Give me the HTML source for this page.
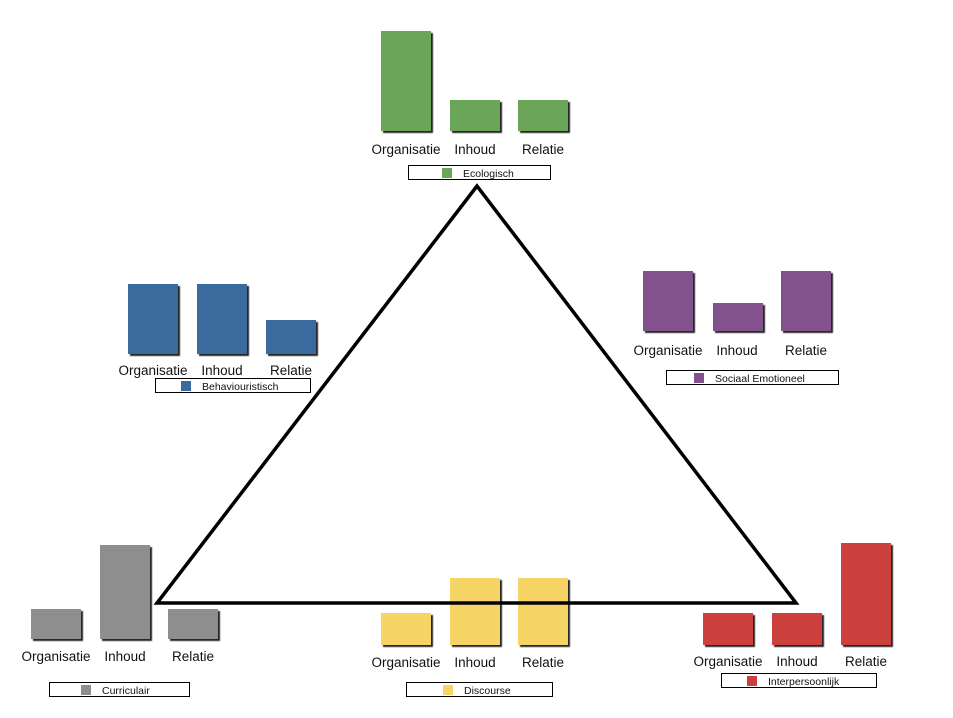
<!DOCTYPE html>
<html><head><meta charset="utf-8"><style>
html,body{margin:0;padding:0;background:#fff;}
svg{display:block;}
text{font-family:"Liberation Sans",sans-serif;fill:#111;}
.l{font-size:13.5px;text-anchor:middle;}
.g{font-size:10.5px;}
</style></head><body>
<svg width="953" height="718" viewBox="0 0 953 718" xmlns="http://www.w3.org/2000/svg">
<defs>
<filter id="s" x="-10%" y="-10%" width="130%" height="130%">
<feDropShadow dx="2" dy="2" stdDeviation="0.6" flood-color="#000" flood-opacity="0.85"/>
</filter>
</defs>
<g filter="url(#s)">
<!-- green -->
<rect x="381" y="31" width="50" height="100" fill="#6aa55a"/>
<rect x="450" y="100" width="50" height="31" fill="#6aa55a"/>
<rect x="518" y="100" width="50" height="31" fill="#6aa55a"/>
<!-- blue -->
<rect x="128" y="284" width="50" height="70" fill="#3a6a9e"/>
<rect x="197" y="284" width="50" height="70" fill="#3a6a9e"/>
<rect x="266" y="320" width="50" height="34" fill="#3a6a9e"/>
<!-- purple -->
<rect x="643" y="271" width="50" height="60" fill="#83518b"/>
<rect x="713" y="303" width="50" height="28" fill="#83518b"/>
<rect x="781" y="271" width="50" height="60" fill="#83518b"/>
<!-- grey -->
<rect x="31" y="609" width="50" height="30" fill="#8d8e8d"/>
<rect x="100" y="545" width="50" height="94" fill="#8d8e8d"/>
<rect x="168" y="609" width="50" height="30" fill="#8d8e8d"/>
<!-- yellow -->
<rect x="381" y="613" width="50" height="32" fill="#f6d466"/>
<rect x="450" y="578" width="50" height="67" fill="#f6d466"/>
<rect x="518" y="578" width="50" height="67" fill="#f6d466"/>
<!-- red -->
<rect x="703" y="613" width="50" height="32" fill="#cc3f3d"/>
<rect x="772" y="613" width="50" height="32" fill="#cc3f3d"/>
<rect x="841" y="543" width="50" height="102" fill="#cc3f3d"/>
</g>

<!-- labels -->
<text class="l" x="406" y="154">Organisatie</text><text class="l" x="475" y="154">Inhoud</text><text class="l" x="543" y="154">Relatie</text>
<text class="l" x="153" y="375">Organisatie</text><text class="l" x="222" y="375">Inhoud</text><text class="l" x="291" y="375">Relatie</text>
<text class="l" x="668" y="355">Organisatie</text><text class="l" x="737" y="355">Inhoud</text><text class="l" x="806" y="355">Relatie</text>
<text class="l" x="56" y="661">Organisatie</text><text class="l" x="125" y="661">Inhoud</text><text class="l" x="193" y="661">Relatie</text>
<text class="l" x="406" y="667">Organisatie</text><text class="l" x="475" y="667">Inhoud</text><text class="l" x="543" y="667">Relatie</text>
<text class="l" x="728" y="666">Organisatie</text><text class="l" x="797" y="666">Inhoud</text><text class="l" x="866" y="666">Relatie</text>

<!-- legends -->
<g stroke="#000" stroke-width="1" fill="#fff">
<rect x="408.5" y="165.5" width="142" height="14"/>
<rect x="155.5" y="378.5" width="155" height="14"/>
<rect x="666.5" y="370.5" width="172" height="14"/>
<rect x="49.5" y="682.5" width="140" height="14"/>
<rect x="406.5" y="682.5" width="146" height="14"/>
<rect x="721.5" y="673.5" width="155" height="14"/>
</g>
<rect x="442" y="168" width="10" height="10" fill="#6aa55a"/><text class="g" x="463" y="177">Ecologisch</text>
<rect x="181" y="381" width="10" height="10" fill="#3a6a9e"/><text class="g" x="202" y="390">Behaviouristisch</text>
<rect x="694" y="373" width="10" height="10" fill="#83518b"/><text class="g" x="715" y="382">Sociaal Emotioneel</text>
<rect x="81" y="685" width="10" height="10" fill="#8d8e8d"/><text class="g" x="102" y="694">Curriculair</text>
<rect x="443" y="685" width="10" height="10" fill="#f6d466"/><text class="g" x="464" y="694">Discourse</text>
<rect x="747" y="676" width="10" height="10" fill="#cc3f3d"/><text class="g" x="768" y="685">Interpersoonlijk</text>

<!-- triangle -->
<polygon points="477,186 157,603 796,603" fill="none" stroke="#000" stroke-width="3.5" stroke-linejoin="miter"/>
</svg>
</body></html>
